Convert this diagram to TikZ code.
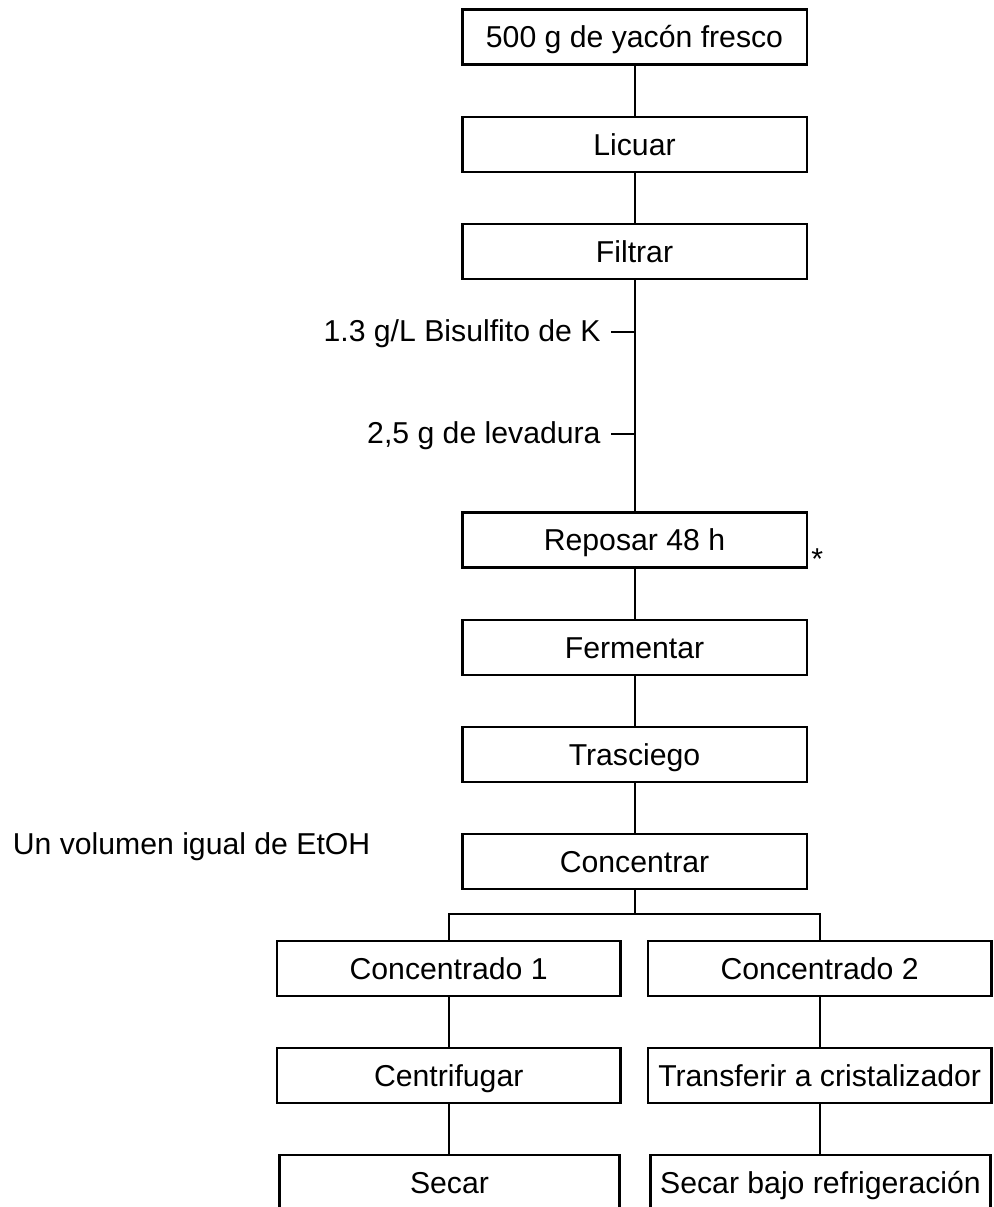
\documentclass[tikz,border=0pt]{standalone}
\usepackage{fontspec}
\setmainfont{Liberation Sans}
\usepackage{tikz}
\usetikzlibrary{positioning}
\tikzset{
  stepbox/.style={draw,line width=1.2pt,minimum width=172.2pt,minimum height=27.5pt,inner sep=0pt,text height=10.8pt,text depth=0pt},
  sidebox/.style={stepbox,minimum width=171.6pt},
  lowbox/.style={stepbox,minimum width=170pt},
  link/.style={line width=1pt},
  sidetext/.style={inner sep=0pt,anchor=base east}
}

\begin{document}
\begin{tikzpicture}[x=0.5pt,y=-0.5pt,font=\fontsize{15.1}{18}\selectfont]
        \clip (0,0) rectangle (994,1207);
        \node[stepbox] (yacon) at (634.5,36.9) {500 g de yacón fresco};
        \node[stepbox] (licuar) at (634.5,144.5) {Licuar};
        \node[stepbox] (filtrar) at (634.5,251.4) {Filtrar};
        \node[stepbox] (reposar) at (634.5,540) {Reposar 48 h};
        \node[stepbox] (fermentar) at (634.5,647.3) {Fermentar};
        \node[stepbox] (trasciego) at (634.5,754.3) {Trasciego};
        \node[stepbox] (concentrar) at (634.5,861.3) {Concentrar};
        \node[sidebox] (conc1) at (448.7,968.5) {Concentrado 1};
        \node[sidebox] (conc2) at (819.7,968.5) {Concentrado 2};
        \node[sidebox] (centrifugar) at (448.7,1075.3) {Centrifugar};
        \node[sidebox] (transferir) at (819.7,1075.3) {Transferir a cristalizador};
        \node[lowbox] (secar) at (449.5,1182.7) {Secar};
        \node[lowbox] (secarfrio) at (820.5,1182.7) {Secar bajo refrigeración};
        \node[sidetext] (bisulfito) at (601,341.7) {1.3 g/L Bisulfito de K};
        \node[sidetext] (levadura) at (601,443.6) {2,5 g de levadura};
        \node[inner sep=0pt,anchor=base west] (asterisco) at (811,569.3) {*};
        \node[inner sep=0pt,anchor=base west] (etoh) at (12.4,854.3) {Un volumen igual de EtOH};
        \coordinate (bistick) at (611.4,332.3);
        \coordinate (levtick) at (611.4,434.3);
        \coordinate (split) at (634.5,914.3);
        \draw[link] (yacon) -- (licuar);
        \draw[link] (licuar) -- (filtrar);
        \draw[link] (filtrar) -- (reposar);
        \draw[link] (bistick) -- (bistick -| reposar.north);
        \draw[link] (levtick) -- (levtick -| reposar.north);
        \draw[link] (reposar) -- (fermentar);
        \draw[link] (fermentar) -- (trasciego);
        \draw[link] (trasciego) -- (concentrar);
        \draw[link] (concentrar.south) -- (split);
        \draw[link] (conc1.north) |- (split) -| (conc2.north);
        \draw[link] (conc1) -- (centrifugar);
        \draw[link] (conc2) -- (transferir);
        \draw[link] (centrifugar.south) -- (centrifugar.south |- secar.north);
        \draw[link] (transferir.south) -- (transferir.south |- secarfrio.north);
      \end{tikzpicture}
\end{document}
